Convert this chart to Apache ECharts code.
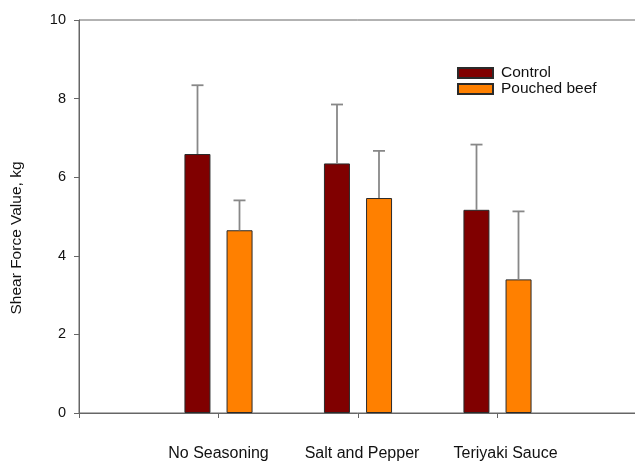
<!DOCTYPE html>
<html>
<head>
<meta charset="utf-8">
<script src="https://cdn.jsdelivr.net/npm/echarts@6/dist/echarts.min.js"></script>
<style>html,body{margin:0;padding:0;background:#fff}#c{width:635px;height:462px}</style>
</head>
<body>
<div id="c"></div>
<script>
const categories = ['No Seasoning', 'Salt and Pepper', 'Teriyaki Sauce'];
const controlMean = [6.59, 6.35, 5.17];
const controlUpper = [8.34, 7.85, 6.83];
const pouchedMean = [4.65, 5.47, 3.40];
const pouchedUpper = [5.41, 6.67, 5.13];
const yTicks = [0, 2, 4, 6, 8, 10];
const labelShift = [0, 8, 16];

const FONT = '"Liberation Sans", Arial, sans-serif';
const axisCats = [''].concat(categories.map((c, i) => ({
  value: c,
  textStyle: { padding: [0, 0, 0, labelShift[i]] }
}))).concat(['']);
const pad = arr => [null].concat(arr).concat([null]);

function errSeries(name, means, uppers, offset) {
  return {
    type: 'custom',
    name: name + ' err',
    z: 5,
    silent: true,
    encode: { x: 0, y: [1, 2] },
    data: means.map((m, i) => [i + 1, m, uppers[i]]),
    renderItem: function (params, api) {
      const lo = api.coord([api.value(0), api.value(1)]);
      const hi = api.coord([api.value(0), api.value(2)]);
      const x = lo[0] + offset;
      const cap = 6;
      const st = { stroke: '#888888', lineWidth: 1.8 };
      return {
        type: 'group',
        children: [
          { type: 'line', shape: { x1: x, y1: lo[1], x2: x, y2: hi[1] }, style: st },
          { type: 'line', shape: { x1: x - cap, y1: hi[1], x2: x + cap, y2: hi[1] }, style: st }
        ]
      };
    }
  };
}

const chart = echarts.init(document.getElementById('c'), null, { renderer: 'canvas' });
chart.setOption({
  animation: false,
  textStyle: { fontFamily: FONT },
  grid: {
    left: 79, top: 20, width: 558, height: 393,
    containLabel: false,
    outerBoundsMode: 'none',
    show: true, borderColor: '#666', borderWidth: 1, backgroundColor: 'transparent'
  },
  legend: {
    orient: 'vertical',
    left: 457, top: 65,
    padding: 0,
    icon: 'rect',
    itemWidth: 35, itemHeight: 10, itemGap: 0,
    data: ['Control', 'Pouched beef'],
    textStyle: { fontSize: 15.5, color: '#111', lineHeight: 16, padding: [0, 0, 0, 3] }
  },
  xAxis: {
    type: 'category',
    boundaryGap: false,
    data: axisCats,
    axisLine: { lineStyle: { color: '#666', width: 1 } },
    axisTick: { show: true, length: 5, inside: false, lineStyle: { color: '#666' } },
    axisLabel: { fontSize: 16, color: '#111', margin: 33, interval: 0, fontFamily: FONT },
    splitLine: { show: false }
  },
  yAxis: {
    type: 'value',
    min: 0, max: 10, interval: 2,
    name: 'Shear Force Value, kg',
    nameLocation: 'middle',
    nameGap: 54,
    nameRotate: 90,
    nameTextStyle: { fontSize: 15.5, color: '#111', padding: [0, 43, 0, 0], fontFamily: FONT },
    axisLine: { show: true, lineStyle: { color: '#666', width: 1 } },
    axisTick: { show: true, length: 5, lineStyle: { color: '#666' } },
    axisLabel: {
      fontSize: 14.5, color: '#111', margin: 13, fontFamily: FONT,
      formatter: v => yTicks.indexOf(v) >= 0 ? String(v) : ''
    },
    splitLine: { show: false }
  },
  series: [
    {
      name: 'Control', type: 'bar',
      data: pad(controlMean),
      barWidth: 26, barGap: '62%',
      itemStyle: { color: '#800000', borderColor: '#2a2a2a', borderWidth: 1 }
    },
    {
      name: 'Pouched beef', type: 'bar',
      data: pad(pouchedMean),
      barWidth: 26, barGap: '62%',
      itemStyle: { color: '#FF8000', borderColor: '#2a2a2a', borderWidth: 1 }
    },
    errSeries('Control', controlMean, controlUpper, -21),
    errSeries('Pouched beef', pouchedMean, pouchedUpper, 21)
  ]
});
</script>
</body>
</html>
